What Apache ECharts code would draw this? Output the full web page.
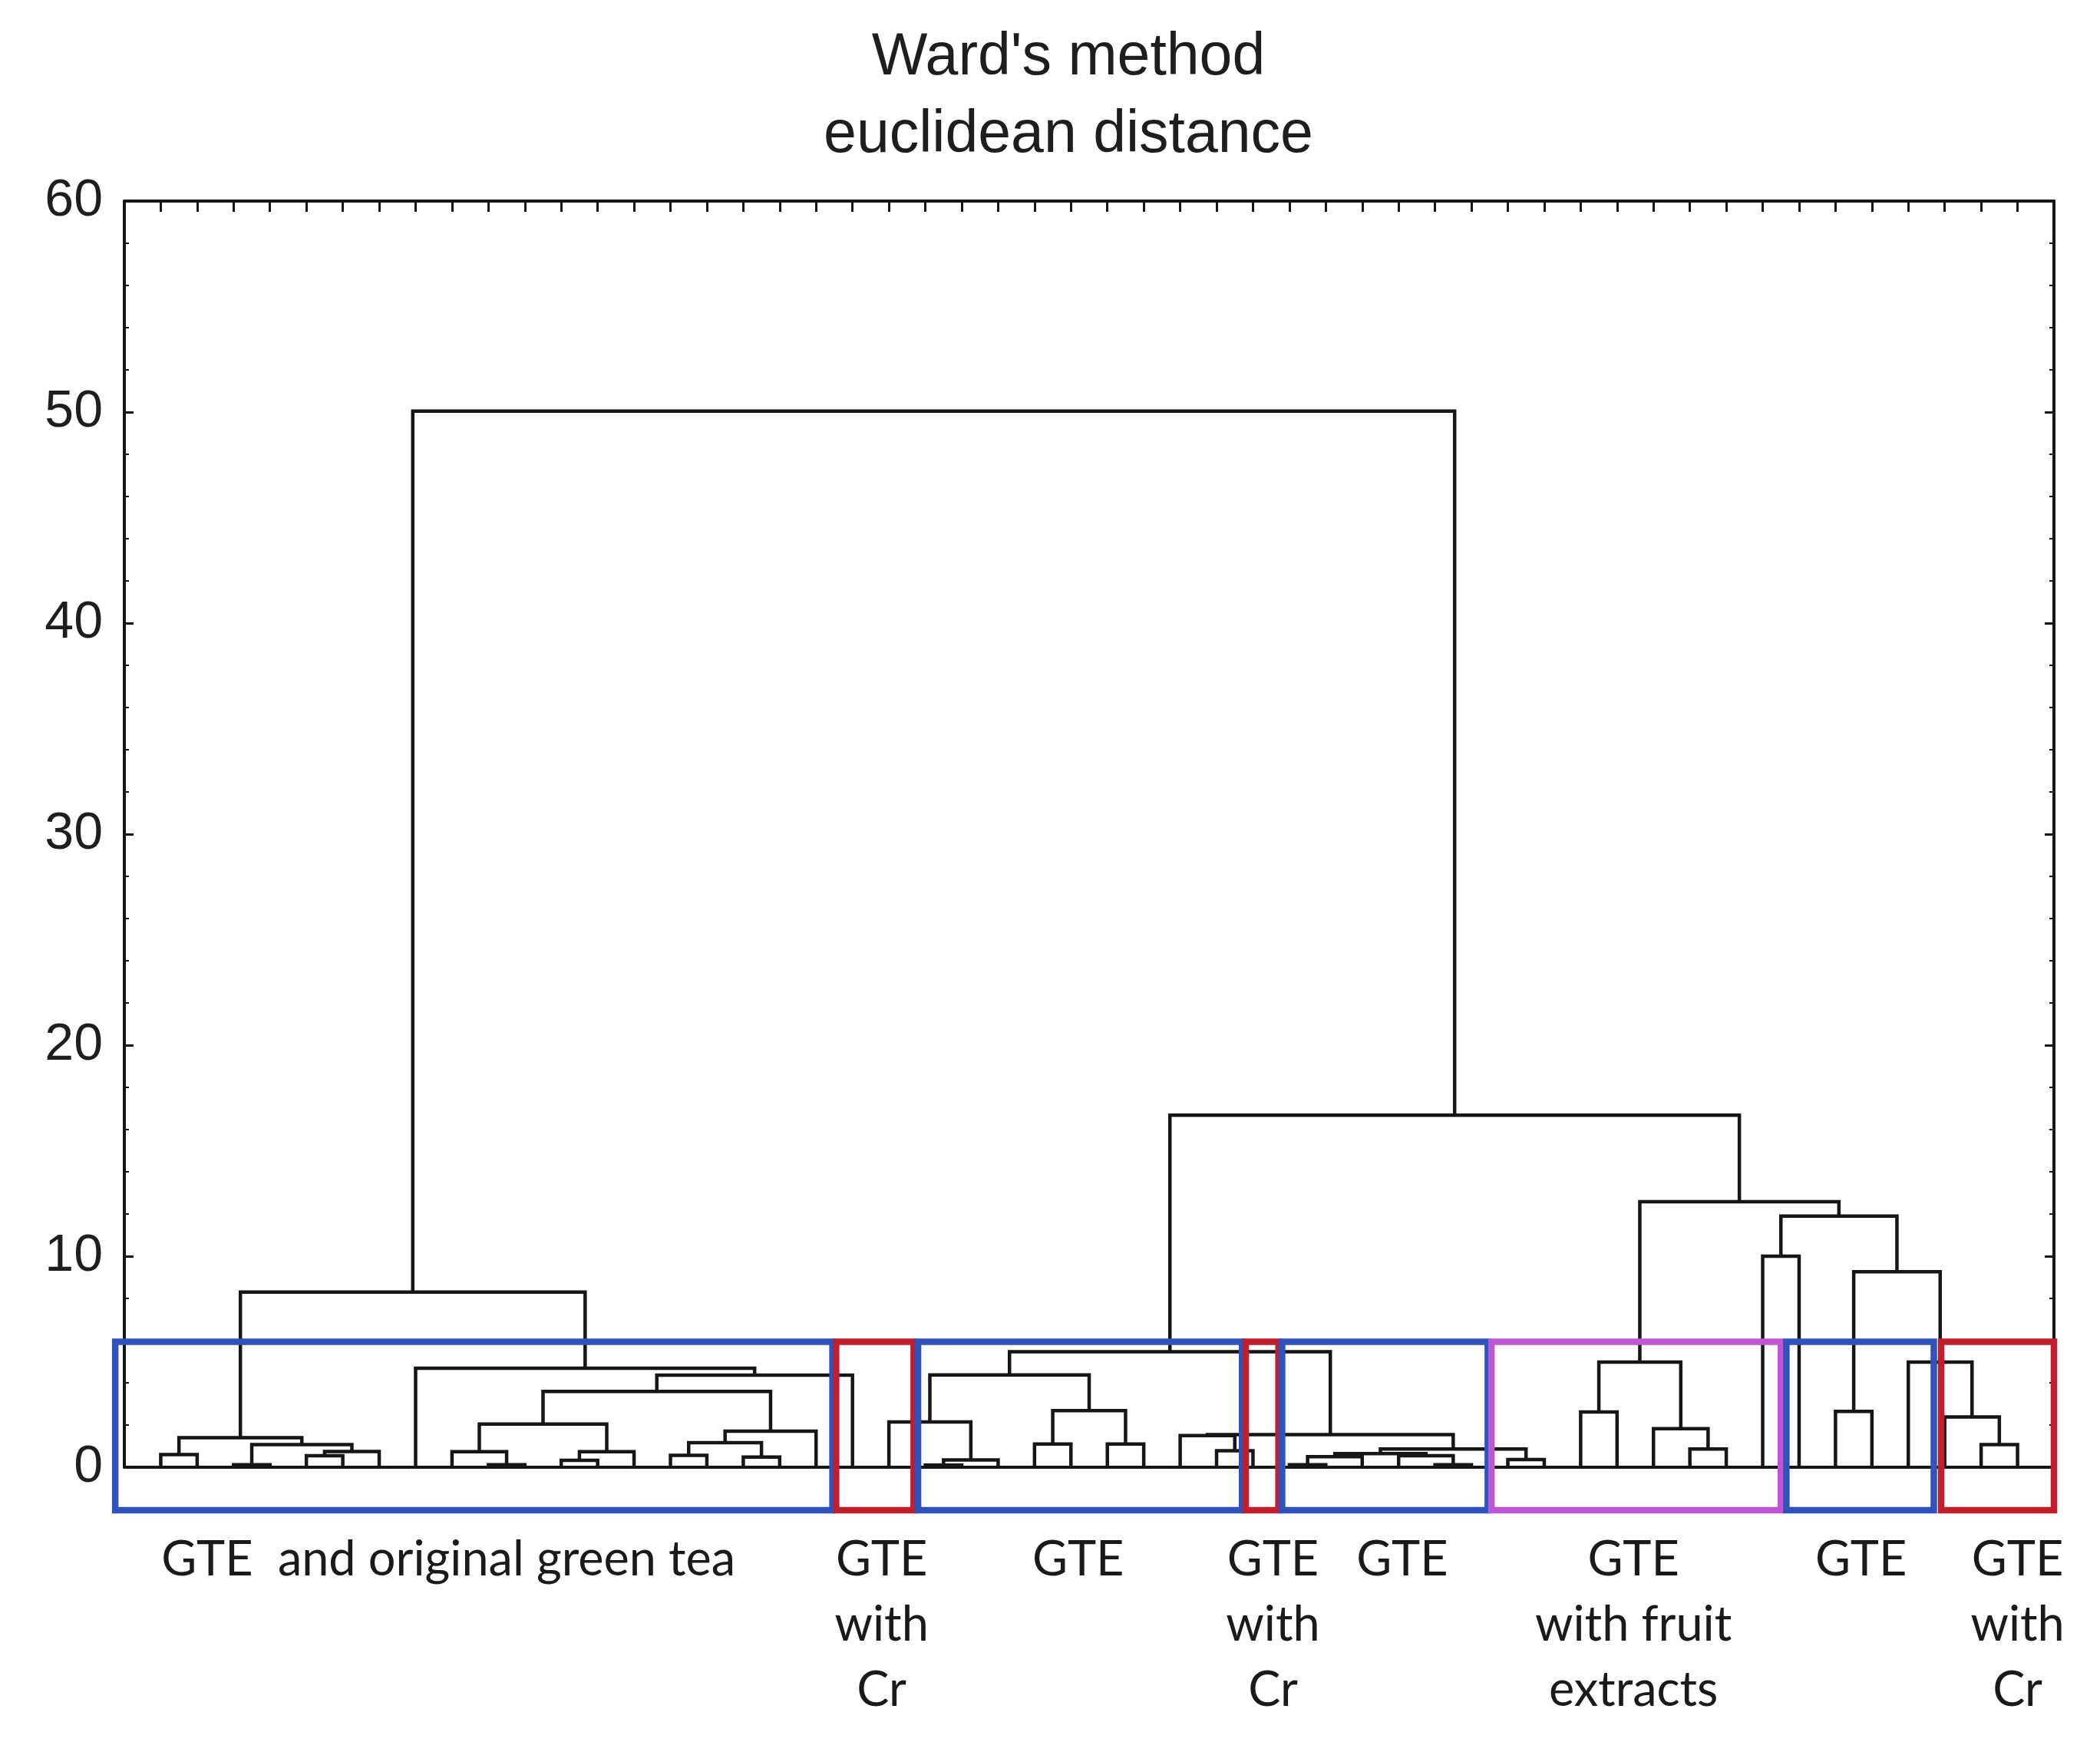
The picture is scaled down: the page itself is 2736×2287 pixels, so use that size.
<!DOCTYPE html>
<html>
<head>
<meta charset="utf-8">
<script src="https://cdn.jsdelivr.net/npm/echarts@6/dist/echarts.min.js"></script>
<style>
html,body{margin:0;padding:0;background:#ffffff;}
#chart{width:2736px;height:2287px;}
</style>
</head>
<body>
<div id="chart"></div>
<script>
// ---------------- data ----------------
const titleLines = ["Ward's method", "euclidean distance"];
const leafCount = 52;                 // objects, in dendrogram order 1..52
const yMin = 0, yMax = 60, yStep = 10;

// linkage rows: [left, right, height]
// positive = leaf number (position in order), negative = earlier row (1-based)
const linkage = [
  [3, 4, 0.12],      // 1
  [10, 11, 0.12],    // 2
  [22, 23, 0.10],    // 3
  [32, 33, 0.12],    // 4
  [36, 37, 0.12],    // 5
  [12, 13, 0.33],    // 6
  [-3, 24, 0.35],    // 7
  [38, 39, 0.36],    // 8
  [17, 18, 0.48],    // 9
  [-4, 34, 0.50],    // 10
  [5, 6, 0.55],      // 11
  [15, 16, 0.56],    // 12
  [35, -5, 0.55],    // 13
  [1, 2, 0.60],      // 14
  [-10, -13, 0.65],  // 15
  [9, -2, 0.74],     // 16
  [-6, 14, 0.74],    // 17
  [-11, 7, 0.75],    // 18
  [30, 31, 0.78],    // 19
  [-15, -8, 0.86],   // 20
  [43, 44, 0.86],    // 21
  [-1, -18, 1.07],   // 22
  [51, 52, 1.07],    // 23
  [25, 26, 1.10],    // 24
  [27, 28, 1.10],    // 25
  [-12, -9, 1.16],   // 26
  [-14, -22, 1.40],  // 27
  [29, -19, 1.50],   // 28
  [-28, -20, 1.55],  // 29
  [-26, 19, 1.71],   // 30
  [42, -21, 1.83],   // 31
  [-16, -17, 2.05],  // 32
  [21, -7, 2.15],    // 33
  [50, -23, 2.38],   // 34
  [40, 41, 2.62],    // 35
  [47, 48, 2.65],    // 36
  [-24, -25, 2.68],  // 37
  [-32, -30, 3.59],  // 38
  [-38, 20, 4.36],   // 39
  [-33, -37, 4.37],  // 40
  [8, -39, 4.69],    // 41
  [-35, -31, 4.98],  // 42
  [49, -34, 4.98],   // 43
  [-40, -29, 5.47],  // 44
  [-27, -41, 8.30],  // 45
  [-36, -43, 9.26],  // 46
  [45, 46, 10.0],    // 47
  [-47, -46, 11.9],  // 48
  [-42, -48, 12.58], // 49
  [-44, -49, 16.68], // 50
  [-45, -50, 50.05]  // 51
];

// highlighted groups (bounds in leaf-position units)
const groupFrom   = [-0.25, 19.55, 21.8, 30.8, 31.8, 37.55, 45.65, 49.9];
const groupTo     = [19.45, 21.68, 30.7, 31.7, 37.45, 45.5, 49.7, 53.0];
const groupKind   = ['GTE', 'Cr', 'GTE', 'Cr', 'GTE', 'fruit', 'GTE', 'Cr'];
const groupLabels = [
  'GTE  and original green tea',
  'GTE\nwith\nCr',
  'GTE',
  'GTE\nwith\nCr',
  'GTE',
  'GTE\nwith fruit\nextracts',
  'GTE',
  'GTE\nwith\nCr'
];
const groupLabelPos = [8.9, 20.8, 26.2, 31.55, 35.1, 41.45, 47.7, 52.0];

// ---------------- build dendrogram segments ----------------
const nodeX = [], nodeH = [];
function childInfo(ref) {
  if (ref > 0) return [ref, 0];
  return [nodeX[-ref - 1], nodeH[-ref - 1]];
}
const segData = linkage.map(function (row) {
  const a = childInfo(row[0]), b = childInfo(row[1]), h = row[2];
  nodeX.push((a[0] + b[0]) / 2);
  nodeH.push(h);
  return { coords: [[a[0], a[1]], [a[0], h], [b[0], h], [b[0], b[1]]] };
});

const kindColor = { GTE: '#2f52bb', Cr: '#c01f2d', fruit: '#bd57d3' };
const INK = '#161616';
const boxTopValue = 5.95;
const boxBelowPx = 56;

const chart = echarts.init(document.getElementById('chart'), null, { renderer: 'canvas' });

const option = {
  animation: false,
  backgroundColor: '#ffffff',
  title: {
    text: titleLines.join('\n'),
    left: 1387,
    top: 20,
    textAlign: 'center',
    textStyle: {
      fontFamily: 'Liberation Sans',
      fontSize: 77,
      fontWeight: 'normal',
      color: '#1e1e1e',
      lineHeight: 101
    }
  },
  grid: { left: 162, right: 60, top: 262, bottom: 375, containLabel: false },
  xAxis: [
    {
      type: 'value', min: 0, max: leafCount + 1, position: 'bottom',
      axisLine: { show: true, onZero: false, lineStyle: { color: INK, width: 4 } },
      axisTick: { show: false }, axisLabel: { show: false }, splitLine: { show: false }
    },
    {
      type: 'value', min: 0, max: leafCount + 1, interval: 1, position: 'top',
      axisLine: { show: true, onZero: false, lineStyle: { color: INK, width: 4 } },
      axisTick: { show: true, inside: true, length: 14, lineStyle: { color: INK, width: 3 } },
      axisLabel: { show: false }, splitLine: { show: false }
    }
  ],
  yAxis: [
    {
      type: 'value', min: yMin, max: yMax, interval: yStep, position: 'left',
      axisLine: { show: true, onZero: false, lineStyle: { color: INK, width: 4 } },
      axisTick: { show: true, inside: true, length: 12, lineStyle: { color: INK, width: 3 } },
      minorTick: { show: true, splitNumber: 5, length: 6, lineStyle: { color: INK, width: 2 } },
      axisLabel: { show: true, margin: 28, fontFamily: 'Liberation Sans', fontSize: 68, color: '#1e1e1e' },
      splitLine: { show: false }
    },
    {
      type: 'value', min: yMin, max: yMax, interval: yStep, position: 'right',
      axisLine: { show: true, onZero: false, lineStyle: { color: INK, width: 4 } },
      axisTick: { show: true, inside: true, length: 12, lineStyle: { color: INK, width: 3 } },
      minorTick: { show: true, splitNumber: 5, length: 6, lineStyle: { color: INK, width: 2 } },
      axisLabel: { show: false }, splitLine: { show: false }
    }
  ],
  series: [
    {
      type: 'lines',
      coordinateSystem: 'cartesian2d',
      xAxisIndex: 0, yAxisIndex: 0,
      polyline: true,
      silent: true,
      lineStyle: { color: INK, width: 4.5, opacity: 1 },
      data: segData,
      z: 3
    },
    {
      type: 'custom',
      xAxisIndex: 0, yAxisIndex: 0,
      clip: false,
      silent: true,
      z: 5,
      data: groupFrom.map(function (v, i) { return [v, groupTo[i]]; }),
      renderItem: function (params, api) {
        const i = params.dataIndex;
        const p0 = api.coord([api.value(0), boxTopValue]);
        const p1 = api.coord([api.value(1), 0]);
        return {
          type: 'rect',
          shape: { x: p0[0], y: p0[1], width: p1[0] - p0[0], height: p1[1] + boxBelowPx - p0[1] },
          style: { fill: 'none', stroke: kindColor[groupKind[i]], lineWidth: 8.5 }
        };
      }
    },
    {
      type: 'custom',
      xAxisIndex: 0, yAxisIndex: 0,
      clip: false,
      silent: true,
      z: 6,
      data: groupLabelPos.map(function (v) { return [v, 0]; }),
      renderItem: function (params, api) {
        const i = params.dataIndex;
        const p = api.coord([api.value(0), 0]);
        return {
          type: 'text',
          x: p[0],
          y: p[1] + 78,
          style: {
            text: groupLabels[i],
            fontFamily: 'Lato',
            fontSize: 63,
            fill: '#1a1a1a',
            align: 'center',
            verticalAlign: 'top',
            lineHeight: 85
          }
        };
      }
    }
  ]
};

chart.setOption(option);
</script>
</body>
</html>
